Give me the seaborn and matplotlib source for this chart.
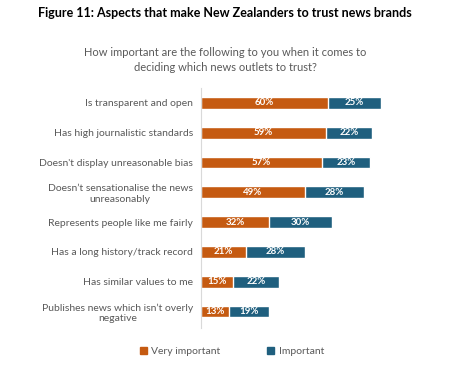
import matplotlib
matplotlib.use('Agg')
import matplotlib.pyplot as plt
import seaborn as sns
import pandas as pd
from matplotlib.patches import Patch

aspects = [
    'Is transparent and open',
    'Has high journalistic standards',
    "Doesn't display unreasonable bias",
    'Doesn\u2019t sensationalise the news\nunreasonably',
    'Represents people like me fairly',
    'Has a long history/track record',
    'Has similar values to me',
    'Publishes news which isn\u2019t overly\nnegative',
]
very_important = [60, 59, 57, 49, 32, 21, 15, 13]
important = [25, 22, 23, 28, 30, 28, 22, 19]

orange = '#C55A11'
blue = '#1F5F7E'
grey = '#595959'

sns.set_style('white')
plt.rcParams['font.family'] = ['Lato', 'DejaVu Sans']

df = pd.DataFrame({'aspect': aspects, 'very': very_important, 'imp': important})
df['total'] = df['very'] + df['imp']

fig = plt.figure(figsize=(4.5, 3.68), dpi=100)
ax = fig.add_axes([0.447, 0.109, 0.47, 0.652])

sns.barplot(data=df, x='total', y='aspect', color=blue, width=0.4,
            saturation=1, ax=ax)
sns.barplot(data=df, x='very', y='aspect', color=orange, width=0.4,
            saturation=1, ax=ax)

for i, row in df.iterrows():
    ax.text(row['very'] / 2, i, f"{row['very']}%", ha='center', va='center',
            color='white', fontsize=7, fontweight='bold')
    ax.text(row['very'] + row['imp'] / 2, i, f"{row['imp']}%", ha='center',
            va='center', color='white', fontsize=7, fontweight='bold')

ax.set_xlim(0, 100)
ax.set_ylim(7.55, -0.5)
ax.set_xlabel('')
ax.set_ylabel('')
ax.set_xticks([])
ax.tick_params(axis='y', length=0, pad=6, labelsize=7.5, labelcolor=grey)
for lbl in ax.get_yticklabels():
    lbl.set_horizontalalignment('right')
    lbl.set_multialignment('center')
for s in ['top', 'right', 'bottom']:
    ax.spines[s].set_visible(False)
ax.spines['left'].set_color('#D9D9D9')
ax.spines['left'].set_linewidth(0.8)

fig.text(0.5, 0.965, 'Figure 11: Aspects that make New Zealanders to trust news brands',
         ha='center', va='center', fontsize=9, fontweight='bold', color='black')
fig.text(0.5, 0.837, 'How important are the following to you when it comes to\n'
         'deciding which news outlets to trust?',
         ha='center', va='center', fontsize=8, color=grey, linespacing=1.35)

handles = [Patch(color=orange, label='Very important'),
           Patch(color=blue, label='Important')]
fig.legend(handles=handles, loc='center', bbox_to_anchor=(0.515, 0.045), ncol=2,
           frameon=False, fontsize=7.5, labelcolor=grey, handlelength=0.7,
           handleheight=0.7, handletextpad=0.4, columnspacing=4.5)

fig.savefig('out.png', dpi=100)
